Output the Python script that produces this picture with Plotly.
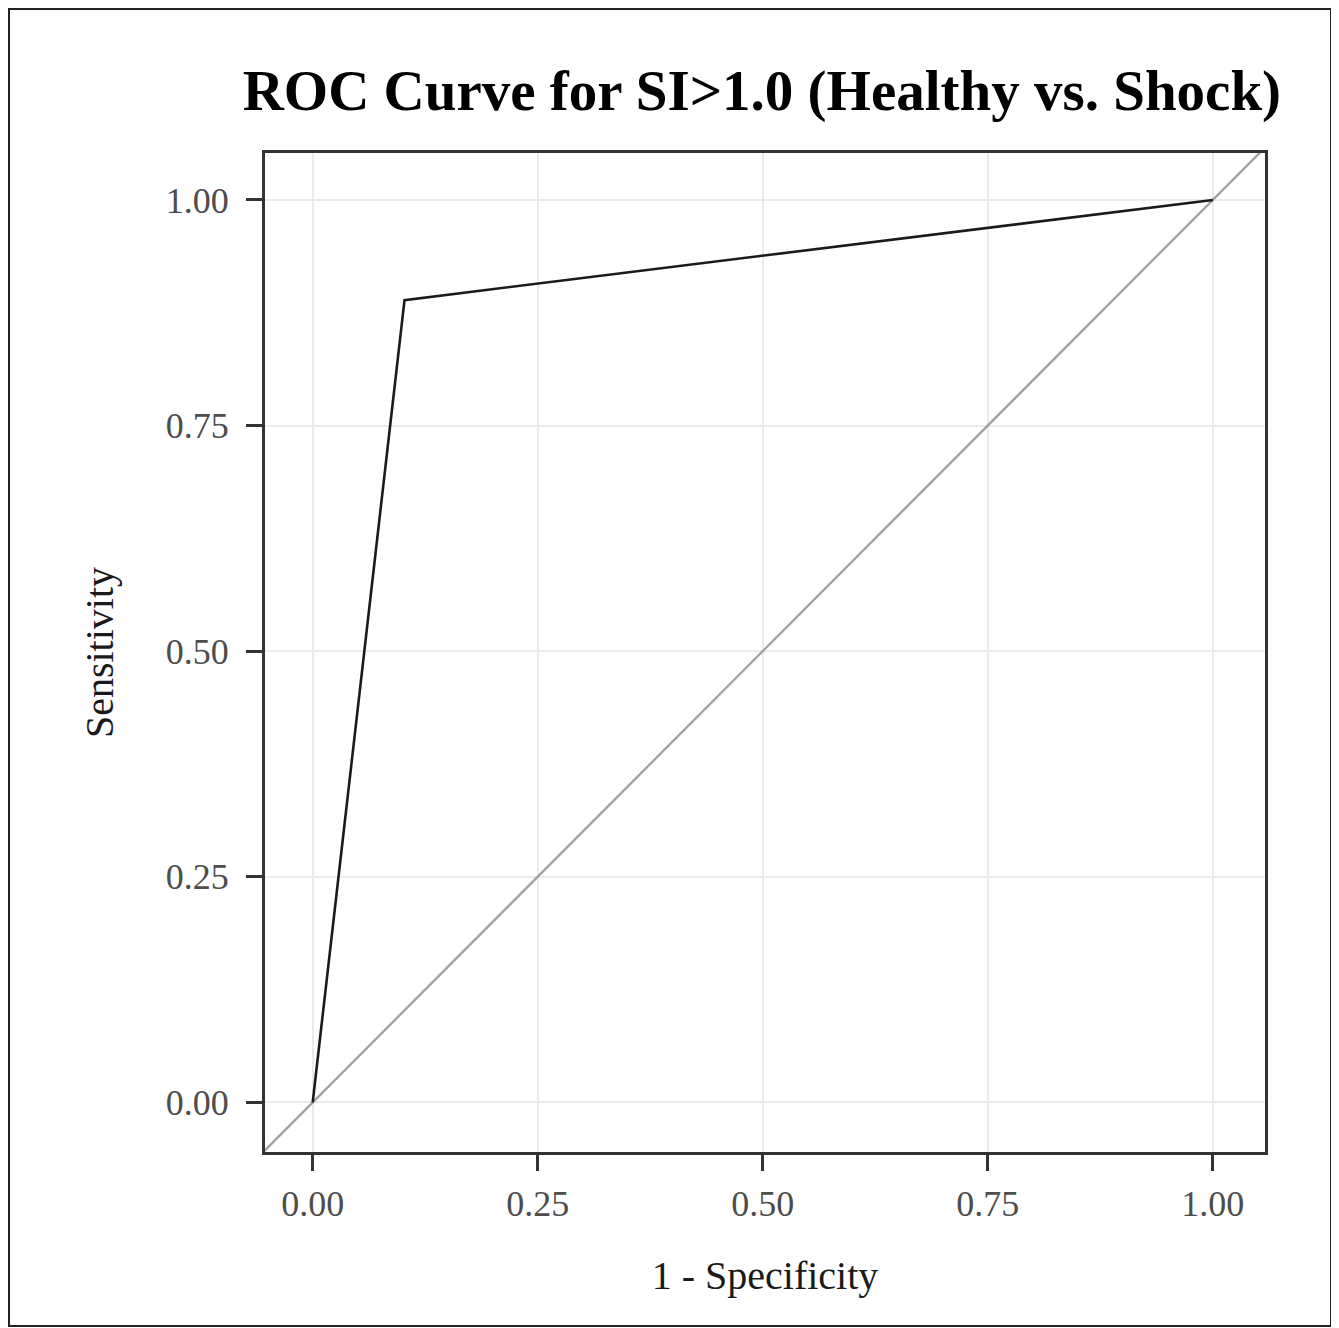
import plotly.graph_objects as go

# ROC curve data
fpr = [0.0, 0.102, 1.0]          # 1 - Specificity
tpr = [0.0, 0.889, 1.0]          # Sensitivity
ref_x = [-0.06, 1.06]            # reference (chance) line
ref_y = [-0.06, 1.06]
tick_vals = [0.0, 0.25, 0.5, 0.75, 1.0]
tick_text = ["0.00", "0.25", "0.50", "0.75", "1.00"]

title_text = "ROC Curve for SI>1.0 (Healthy vs. Shock)"
x_title = "1 - Specificity"
y_title = "Sensitivity"

font_family = "Liberation Serif, Times New Roman, serif"

# page has an 8px body margin, so figure coordinates are shifted by 8px
L, T, W, H = 257, 145, 1000, 999

fig = go.Figure()
fig.add_trace(go.Scatter(x=ref_x, y=ref_y, mode="lines",
                         line=dict(color="#a3a3a3", width=2.4), showlegend=False,
                         hoverinfo="skip"))
fig.add_trace(go.Scatter(x=fpr, y=tpr, mode="lines",
                         line=dict(color="#1a1a1a", width=2.6), showlegend=False))

axis_common = dict(
    tickvals=tick_vals, ticktext=tick_text,
    showgrid=True, gridcolor="#ebebeb", gridwidth=2,
    zeroline=False,
    showline=True, mirror=True, linecolor="#333333", linewidth=3,
    ticks="outside", ticklen=16, tickwidth=3, tickcolor="#333333",
    tickfont=dict(family=font_family, size=36, color="#4d4d4d"),
)

fig.update_layout(
    width=1339, height=1328,
    margin=dict(l=L, r=1339 - L - W, t=T, b=1328 - T - H),
    paper_bgcolor="white", plot_bgcolor="white",
    title=dict(text=f"<b>{title_text}</b>", x=0.563, xanchor="center",
               y=1 - 82/1328, yanchor="middle",
               font=dict(family=font_family, size=57, color="black")),
    xaxis=dict(**axis_common, range=[-0.053, 1.058], ticklabelstandoff=2,
               title=dict(text=x_title, standoff=38,
                          font=dict(family=font_family, size=40, color="#1a1a1a"))),
    yaxis=dict(**axis_common, range=[-0.055, 1.052], ticklabelstandoff=10,
               title=dict(text=y_title, standoff=40,
                          font=dict(family=font_family, size=40, color="#1a1a1a"))),
    shapes=[dict(type="rect", xref="paper", yref="paper",
                 x0=(1 - L)/W, x1=(1323 - L)/W,
                 y0=(T + H - 1318)/H, y1=(T + H - 1)/H,
                 line=dict(color="#222222", width=2), layer="below")],
)

fig.write_html("out.html")
